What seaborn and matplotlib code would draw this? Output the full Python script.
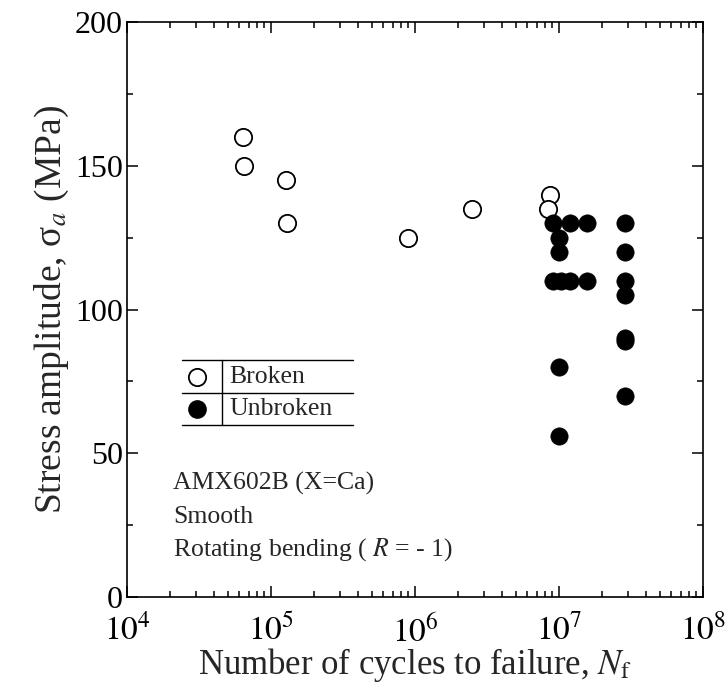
import matplotlib
matplotlib.use("Agg")
import matplotlib.pyplot as plt
import seaborn as sns
import numpy as np
import pandas as pd
from matplotlib.ticker import LogLocator, MultipleLocator, FixedLocator

# ---- data ----
broken_N = [6.4e4, 6.5e4, 1.27e5, 1.29e5, 9.0e5, 2.5e6, 8.7e6, 8.4e6]
broken_S = [160, 150, 145, 130, 125, 135, 140, 135]

unbroken_N = [9.1e6, 1.19e7, 1.56e7, 1.0e7, 1.0e7,
              9.1e6, 1.03e7, 1.19e7, 1.56e7, 1.0e7, 1.0e7,
              2.9e7, 2.9e7, 2.9e7, 2.9e7, 2.9e7, 2.9e7, 2.9e7]
unbroken_S = [130, 130, 130, 125, 120,
              110, 110, 110, 110, 80, 56,
              130, 120, 110, 105, 90, 89, 70]

legend_labels = ["Broken", "Unbroken"]
annot_lines = ["AMX602B (X=Ca)", "Smooth", r"Rotating bending ( $R$ = - 1)"]
x_ticks = [1e4, 1e5, 1e6, 1e7, 1e8]
y_ticks = [0, 50, 100, 150, 200]

df = pd.DataFrame({
    "N": broken_N + unbroken_N,
    "S": broken_S + unbroken_S,
    "status": ["Broken"] * len(broken_N) + ["Unbroken"] * len(unbroken_N),
})

sns.set_theme(style="ticks")
plt.rcParams["font.family"] = ["Liberation Serif", "DejaVu Serif"]
plt.rcParams["mathtext.fontset"] = "stix"

fig = plt.figure(figsize=(7.28, 6.88), dpi=100)
ax = fig.add_axes([0.1745, 0.132, 0.791, 0.836])

MS = 155
sns.scatterplot(data=df[df.status == "Broken"], x="N", y="S", ax=ax,
                marker="o", s=MS, facecolor="white", edgecolor="black",
                linewidth=1.3, legend=False, zorder=3)
sns.scatterplot(data=df[df.status == "Unbroken"], x="N", y="S", ax=ax,
                marker="o", s=MS, color="black", edgecolor="black",
                linewidth=0.5, legend=False, zorder=4)

ax.set_xscale("log")
ax.set_xlim(1e4, 1e8)
ax.set_ylim(0, 200)
ax.xaxis.set_major_locator(FixedLocator(x_ticks))
ax.xaxis.set_minor_locator(LogLocator(base=10, subs=np.arange(2, 10), numticks=20))
ax.yaxis.set_major_locator(FixedLocator(y_ticks))
ax.yaxis.set_minor_locator(MultipleLocator(25))
ax.set_xticklabels([r"$10^{%d}$" % int(np.log10(v)) for v in x_ticks])
ax.set_yticklabels([str(v) for v in y_ticks])

ax.tick_params(which="both", direction="in", top=True, right=True, width=1.1, colors="black")
ax.tick_params(which="major", length=8, labelsize=23, pad=3)
ax.tick_params(which="minor", length=4.5)
ax.tick_params(axis="x", which="major", pad=12, labelsize=24)
for sp in ax.spines.values():
    sp.set_linewidth(1.2)
    sp.set_color("black")

ax.set_xlabel(r"Number of cycles to failure, $N_{\mathrm{f}}$", fontsize=25, labelpad=-2)
ax.set_ylabel("Stress amplitude, σ$_{a}$ (MPa)", fontsize=27, labelpad=3)

# legend drawn as a small table
tr = ax.transAxes
for yy in [0.412, 0.355, 0.299]:
    ax.plot([0.0955, 0.392], [yy, yy], color="black", lw=1.0, transform=tr, clip_on=False)
ax.plot([0.165, 0.165], [0.412, 0.299], color="black", lw=1.0, transform=tr)
ax.scatter([0.1215], [0.383], s=MS, facecolor="white", edgecolor="black", linewidth=1.3, transform=tr)
ax.scatter([0.1215], [0.327], s=MS, color="black", transform=tr)
ax.text(0.177, 0.383, legend_labels[0], transform=tr, fontsize=18.5, va="center", ha="left")
ax.text(0.177, 0.327, legend_labels[1], transform=tr, fontsize=18.5, va="center", ha="left")

for yy, t in zip([0.198, 0.139, 0.082], annot_lines):
    ax.text(0.080, yy, t, transform=tr, fontsize=18.5, va="center", ha="left")

fig.savefig("out.png", dpi=100)
